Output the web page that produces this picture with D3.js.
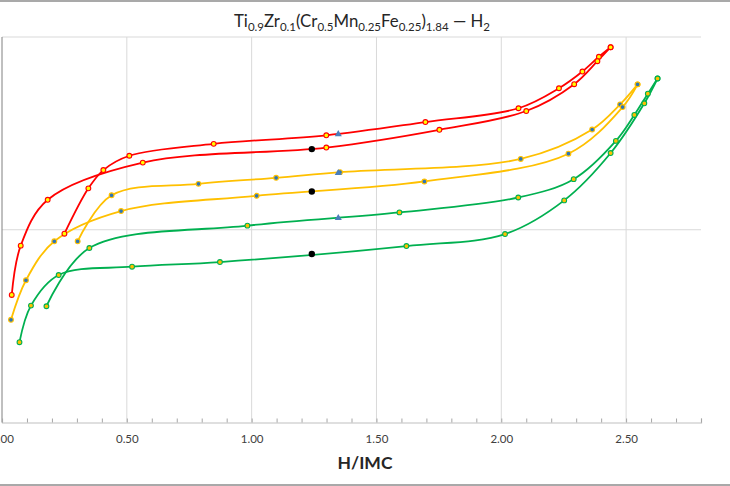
<!DOCTYPE html>
<html>
<head>
<meta charset="utf-8">
<script src="https://cdn.jsdelivr.net/npm/d3@7"></script>
<style>
  body { margin: 0; background: #fff; }
  svg { display: block; font-family: Lato, "Open Sans", sans-serif; }
</style>
</head>
<body>
<svg id="chart" width="730" height="486"></svg>
<script>
// H/IMC vs pressure (log)
const redAbsX = [0.25, 0.346, 0.406, 0.510, 0.848, 1.299, 1.696, 2.069, 2.231, 2.325, 2.391, 2.438];
const redAbsP = [0.954, 1.64, 2.04, 2.42, 2.79, 3.09, 3.62, 4.27, 5.42, 6.62, 7.90, 8.85];
const redDesX = [0.039, 0.075, 0.183, 0.564, 1.299, 1.752, 2.100, 2.292, 2.385, 2.438];
const redDesP = [0.459, 0.827, 1.43, 2.23, 2.67, 3.30, 4.13, 5.69, 7.49, 8.85];

const yelAbsX = [0.303, 0.439, 0.787, 1.098, 1.354, 2.078, 2.364, 2.476, 2.546];
const yelAbsP = [0.871, 1.51, 1.73, 1.86, 1.99, 2.33, 3.31, 4.47, 5.68];
const yelDesX = [0.036, 0.096, 0.2095, 0.477, 1.020, 1.692, 2.269, 2.486, 2.546];
const yelDesP = [0.341, 0.547, 0.871, 1.25, 1.50, 1.78, 2.48, 4.33, 5.68];

const grnAbsX = [0.178, 0.350, 0.983, 1.592, 2.068, 2.290, 2.459, 2.533, 2.587, 2.626];
const grnAbsP = [0.401, 0.804, 1.05, 1.23, 1.47, 1.83, 2.89, 3.94, 5.08, 6.09];
const grnDesX = [0.070, 0.116, 0.227, 0.521, 0.873, 1.620, 2.015, 2.252, 2.438, 2.573, 2.626];
const grnDesP = [0.261, 0.404, 0.582, 0.643, 0.680, 0.823, 0.950, 1.42, 2.50, 4.53, 6.09];

// extra markers
const blackX = [1.241, 1.241, 1.241];
const blackP = [2.62, 1.58, 0.748];
const triX = [1.347, 1.347, 1.347];
const triP = [3.13, 1.97, 1.15];

const xTicks = [0, 0.5, 1.0, 1.5, 2.0, 2.5];

const svg = d3.select('#chart');
const plotLeft = 2, plotRight = 701, plotTop = 37, plotBottom = 422.5;

const x = d3.scaleLinear().domain([0, 2.8]).range([plotLeft, plotRight]);
const y = d3.scaleLog().domain([0.1, 10]).range([plotBottom, plotTop]);

// frame lines (chart border, cropped)
svg.append('line').attr('x1', 0).attr('x2', 730).attr('y1', 1).attr('y2', 1)
    .attr('stroke', '#8c8c8c').attr('stroke-width', 1.5);
svg.append('line').attr('x1', 0).attr('x2', 730).attr('y1', 485).attr('y2', 485)
    .attr('stroke', '#8c8c8c').attr('stroke-width', 1.5);

// title
const title = svg.append('text')
    .attr('x', 362).attr('y', 27)
    .attr('text-anchor', 'middle')
    .attr('font-size', 16.8)
    .attr('fill', '#262626');
const parts = [['Ti', 0], ['0.9', 1], ['Zr', 0], ['0.1', 1], ['(Cr', 0], ['0.5', 1], ['Mn', 0], ['0.25', 1],
    ['Fe', 0], ['0.25', 1], [')', 0], ['1.84', 1], [' — H', 0], ['2', 1]];
parts.forEach(([t, sub]) => {
    title.append('tspan')
        .attr('font-size', sub ? 11.5 : 16.8)
        .attr('baseline-shift', sub ? '-30%' : null)
        .text(t);
});

// gridlines
svg.append('g').selectAll('line')
    .data(xTicks.filter(d => d > 0))
    .join('line')
    .attr('x1', d => x(d)).attr('x2', d => x(d))
    .attr('y1', plotTop).attr('y2', plotBottom)
    .attr('stroke', '#d9d9d9').attr('stroke-width', 1);

svg.append('g').selectAll('line')
    .data([1, 10])
    .join('line')
    .attr('x1', plotLeft).attr('x2', plotRight)
    .attr('y1', d => y(d)).attr('y2', d => y(d))
    .attr('stroke', '#d9d9d9').attr('stroke-width', 1);

// y axis line (labels are cropped away)
svg.append('line').attr('x1', plotLeft).attr('x2', plotLeft).attr('y1', plotTop).attr('y2', plotBottom)
    .attr('stroke', '#808080').attr('stroke-width', 1);

// x axis
const xAxis = d3.axisBottom(x)
    .tickValues(d3.range(0, 29).map(i => i / 10))
    .tickSize(-4)
    .tickFormat(d => xTicks.some(t => Math.abs(t - d) < 1e-9) ? d3.format('.2f')(d) : '');
const gx = svg.append('g')
    .attr('transform', `translate(0,${plotBottom})`)
    .call(xAxis);
gx.select('.domain').attr('stroke', '#bfbfbf').attr('stroke-width', 1.2);
gx.selectAll('.tick line').attr('stroke', '#a6a6a6');
gx.selectAll('.tick text')
    .attr('y', 12)
    .attr('font-size', 11.5)
    .attr('font-family', 'Lato, sans-serif')
    .attr('fill', '#404040');

svg.append('text')
    .attr('x', 365).attr('y', 469)
    .attr('text-anchor', 'middle')
    .attr('font-size', 17.5)
    .attr('font-weight', 'bold')
    .attr('fill', '#262626')
    .text('H/IMC');

// curves
const line = d3.line()
    .x(d => x(d[0]))
    .y(d => y(d[1]))
    .curve(d3.curveCatmullRom.alpha(0.5));

const series = [
    { xs: redAbsX, ps: redAbsP, color: '#ff0000', fill: '#ffff00' },
    { xs: redDesX, ps: redDesP, color: '#ff0000', fill: '#ffff00' },
    { xs: yelAbsX, ps: yelAbsP, color: '#ffc000', fill: '#2e75b6' },
    { xs: yelDesX, ps: yelDesP, color: '#ffc000', fill: '#2e75b6' },
    { xs: grnAbsX, ps: grnAbsP, color: '#00b050', fill: '#ffc000' },
    { xs: grnDesX, ps: grnDesP, color: '#00b050', fill: '#ffc000' }
];

series.forEach(s => {
    const pts = s.xs.map((v, i) => [v, s.ps[i]]);
    svg.append('path')
        .datum(pts)
        .attr('fill', 'none')
        .attr('stroke', s.color)
        .attr('stroke-width', 1.8)
        .attr('d', line);
});

series.forEach(s => {
    const pts = s.xs.map((v, i) => [v, s.ps[i]]);
    svg.append('g').selectAll('circle')
        .data(pts)
        .join('circle')
        .attr('cx', d => x(d[0]))
        .attr('cy', d => y(d[1]))
        .attr('r', 2.4)
        .attr('fill', s.fill)
        .attr('stroke', s.color)
        .attr('stroke-width', 1.1);
});

// black dots
svg.append('g').selectAll('circle')
    .data(blackX.map((v, i) => [v, blackP[i]]))
    .join('circle')
    .attr('cx', d => x(d[0]))
    .attr('cy', d => y(d[1]))
    .attr('r', 3.2)
    .attr('fill', '#000');

// blue triangles
svg.append('g').selectAll('path')
    .data(triX.map((v, i) => [v, triP[i]]))
    .join('path')
    .attr('transform', d => `translate(${x(d[0])},${y(d[1])})`)
    .attr('d', d3.symbol(d3.symbolTriangle, 22))
    .attr('fill', '#4a7ebb');
</script>
</body>
</html>
